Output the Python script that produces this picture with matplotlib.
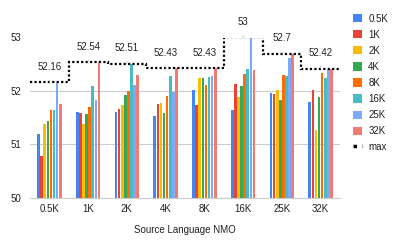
import numpy as np
import matplotlib as mpl
mpl.use('Agg')
import matplotlib.pyplot as plt
from matplotlib.lines import Line2D
from matplotlib.patches import Patch

plt.rcParams['font.family'] = ['Liberation Sans', 'DejaVu Sans']

# Data
groups = ["0.5K", "1K", "2K", "4K", "8K", "16K", "25K", "32K"]
series = ["0.5K", "1K", "2K", "4K", "8K", "16K", "25K", "32K"]
s_05k = [51.19, 51.61, 51.61, 51.53, 52.02, 51.65, 51.97, 51.79]
s_1k = [50.78, 51.58, 51.66, 51.76, 51.73, 52.14, 51.94, 52.02]
s_2k = [51.39, 51.38, 51.74, 51.77, 52.25, 51.89, 52.02, 51.28]
s_4k = [51.44, 51.57, 51.93, 51.58, 52.24, 52.09, 51.83, 51.88]
s_8k = [51.65, 51.71, 52.00, 51.90, 52.12, 52.32, 52.29, 52.33]
s_16k = [51.65, 52.09, 52.51, 52.28, 52.27, 52.42, 52.28, 52.25]
s_25k = [52.16, 51.83, 52.12, 51.99, 52.28, 53.00, 52.61, 52.39]
s_32k = [51.76, 52.54, 52.29, 52.43, 52.43, 52.39, 52.70, 52.42]
values = [s_05k, s_1k, s_2k, s_4k, s_8k, s_16k, s_25k, s_32k]
colors = ["#4285F4", "#EA4335", "#FBBC04", "#34A853", "#FF6D01",
          "#46BDC6", "#7BAAF7", "#F07B72"]

fig = plt.figure(figsize=(3.97, 2.45), dpi=100)
ax = fig.add_axes([30 / 397, 47 / 245, 310 / 397, 160.5 / 245])

x = np.arange(len(groups))
step = 0.08
width = 0.066
for k, (name, vals) in enumerate(zip(series, values)):
    ax.bar(x + (k - 3.5) * step, np.array(vals) - 50, width, bottom=50,
           color=colors[k], zorder=2)

# max line
maxv = np.max(np.array(values), axis=0)
edges = np.arange(len(groups) + 1) - 0.5
ax.stairs(maxv, edges, baseline=None, color="black", linestyle=(0, (1, 1)),
          linewidth=1.6, zorder=3)
for i, m in enumerate(maxv):
    ax.annotate(f"{m:g}", xy=(i, m), xytext=(0, 11), textcoords="offset points",
                ha="center", va="center", fontsize=7, color="#222222",
                arrowprops=dict(arrowstyle="-", color="#aaaaaa", lw=0.6,
                                shrinkA=4, shrinkB=0))

# Parameters
ax.set_xlim(-0.5, len(groups) - 0.5)
ax.set_ylim(50, 53)
ax.set_yticks([50, 51, 52, 53])
ax.set_xticks(x)
ax.set_xticklabels(groups)
ax.tick_params(length=0, labelsize=7, colors="#222222")
ax.tick_params(axis="x", pad=4)
ax.tick_params(axis="y", pad=6)
ax.grid(axis="y", color="#cccccc", linewidth=0.8, zorder=0)
for side in ["top", "right", "left"]:
    ax.spines[side].set_visible(False)
ax.spines["bottom"].set_color("#cccccc")
ax.set_xlabel("Source Language NMO", fontsize=7, color="#222222", labelpad=8)

handles = [Patch(facecolor=c, edgecolor="none") for c in colors]
handles.append(Line2D([0], [0], color="black", linestyle=(0, (1, 1.5)), linewidth=2.5))
leg = fig.legend(handles, series + ["max"], loc="upper left",
                 bbox_to_anchor=(344 / 397, 1 - 5 / 245), frameon=False,
                 fontsize=7, handlelength=0.9, handleheight=0.9,
                 labelspacing=0.62, handletextpad=0.7, labelcolor="#222222")

fig.savefig("out.png", dpi=100)
